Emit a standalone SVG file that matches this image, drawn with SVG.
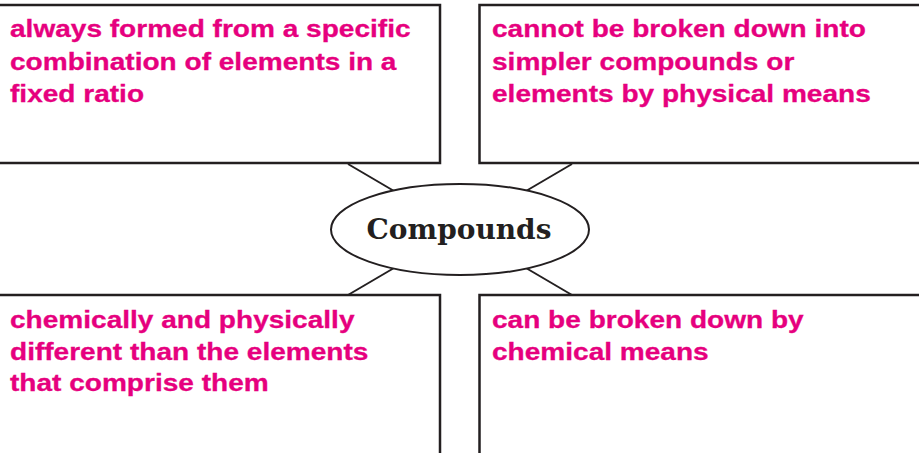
<svg xmlns="http://www.w3.org/2000/svg" width="919" height="453" viewBox="0 0 919 453">
<style>
.box{fill:#fff;stroke:#231f20;stroke-width:2.5}
.t{font-family:"Liberation Sans",Arial,sans-serif;font-weight:bold;font-size:23px;fill:#e6007e;stroke:#e6007e;stroke-width:0.3}
.conn{stroke:#231f20;stroke-width:2;fill:none}
.oval{fill:#fff;stroke:#231f20;stroke-width:2}
.c{font-family:"DejaVu Serif",serif;font-weight:bold;font-size:28px;fill:#231f20}
</style>
<rect width="919" height="453" fill="#fff"/>
<g id="connectors">
<line class="conn" x1="348" y1="164" x2="394" y2="191"/>
<line class="conn" x1="572" y1="164" x2="526" y2="191"/>
<line class="conn" x1="394" y1="268" x2="348" y2="295"/>
<line class="conn" x1="526" y1="268" x2="572" y2="295"/>
</g>
<g id="box-tl">
<rect class="box" x="-10" y="5" width="450" height="158"/>
<g transform="translate(10,0) scale(1.22,1)">
<text class="t" x="0" y="37.5">always formed from a specific</text>
<text class="t" x="0" y="70">combination of elements in a</text>
<text class="t" x="0" y="102">fixed ratio</text>
</g>
</g>
<g id="box-tr">
<rect class="box" x="479.5" y="5" width="450" height="158"/>
<g transform="translate(492,0) scale(1.22,1)">
<text class="t" x="0" y="37.5">cannot be broken down into</text>
<text class="t" x="0" y="70">simpler compounds or</text>
<text class="t" x="0" y="102">elements by physical means</text>
</g>
</g>
<g id="box-bl">
<rect class="box" x="-10" y="295" width="450" height="170"/>
<g transform="translate(10,0) scale(1.22,1)">
<text class="t" x="0" y="328.5">chemically and physically</text>
<text class="t" x="0" y="360">different than the elements</text>
<text class="t" x="0" y="391.5">that comprise them</text>
</g>
</g>
<g id="box-br">
<rect class="box" x="479.5" y="295" width="450" height="170"/>
<g transform="translate(492,0) scale(1.22,1)">
<text class="t" x="0" y="328.5">can be broken down by</text>
<text class="t" x="0" y="360">chemical means</text>
</g>
</g>
<g id="center">
<ellipse class="oval" cx="460" cy="229.5" rx="129" ry="45.5"/>
<text class="c" x="459" y="238.5" text-anchor="middle">Compounds</text>
</g>
</svg>
